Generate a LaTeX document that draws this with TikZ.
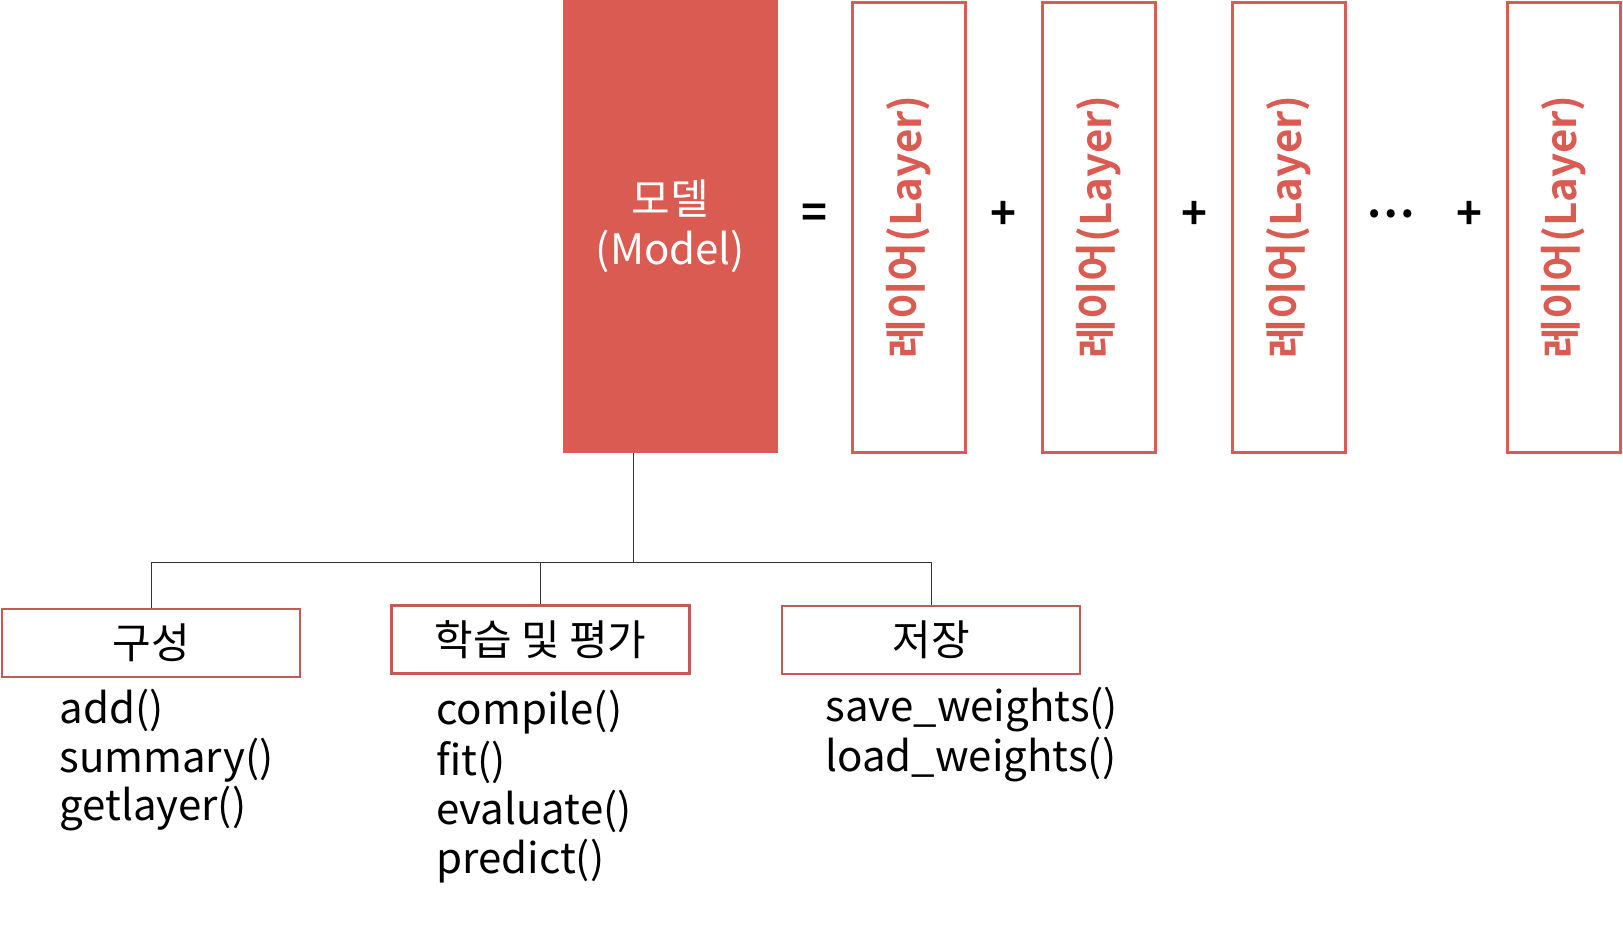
\documentclass[tikz,border=0pt]{standalone}
\usepackage{fontspec}
\setmainfont{Noto Sans CJK KR}[BoldFont={Noto Sans CJK KR Bold}]
\definecolor{mred}{HTML}{D95B51}
\definecolor{bred}{HTML}{C55A55}
\definecolor{conn}{HTML}{333333}
\tikzset{
  modelbox/.style={fill=mred, draw=none, minimum width=107.5pt, minimum height=226.5pt, inner sep=0pt, text=white, align=center, font=\fontsize{21}{25}\selectfont},
  layerbox/.style={draw=mred, line width=1.5pt, fill=white, minimum width=56.5pt, minimum height=225pt, inner sep=0pt},
  layertext/.style={rotate=90, text=mred, font=\fontsize{21}{24}\selectfont\bfseries},
  sym/.style={font=\fontsize{22}{26}\selectfont\bfseries, inner sep=0pt},
  catbox/.style={draw=bred, line width=1.25pt, minimum width=149pt, minimum height=34pt, inner sep=0pt, font=\fontsize{21}{24}\selectfont},
  item/.style={anchor=west, inner sep=0pt, font=\fontsize{21}{24}\selectfont},
  connline/.style={draw=conn, line width=0.5pt}
}
\begin{document}
\begin{tikzpicture}[x=0.5pt,y=-0.5pt]
\useasboundingbox (0,0) rectangle (1623,927);
\node[modelbox] (model) at (670.5,226.5) {모델\\(Model)};
\node[sym] (eq) at (814,216) {=};
\node[layerbox] (l1) at (909,227) {};
\node[layertext] (t1) at (l1.center) {레이어(Layer)};
\node[sym] (p1) at (1003,215) {+};
\node[layerbox] (l2) at (1098.5,227) {};
\node[layertext] (t2) at (l2.center) {레이어(Layer)};
\node[sym] (p2) at (1194,215) {+};
\node[layerbox] (l3) at (1288.5,227) {};
\node[layertext] (t3) at (l3.center) {레이어(Layer)};
\node[sym] (dots) at (1391,214) {…};
\node[sym] (p3) at (1469,215) {+};
\node[layerbox] (l4) at (1564,227) {};
\node[layertext] (t4) at (l4.center) {레이어(Layer)};

\node[catbox] (b1) at (151,643) {구성};
\node[catbox] (b2) at (540.5,639.5) {학습 및 평가};
\node[catbox] (b3) at (931,640) {저장};

\coordinate (mj) at (633,562);
\draw[connline] (model.south -| mj) -- (mj);
\draw[connline] (b1.north) -- (b1.north |- mj) -- (b3.north |- mj) -- (b3.north);
\draw[connline] (b2.north) -- (b2.north |- mj);

\node[item] (i11) at (59,710) {add()};
\node[item] (i12) at (59,760) {summary()};
\node[item] (i13) at (59,809) {getlayer()};
\node[item] (i21) at (436,712) {compile()};
\node[item] (i22) at (436,762) {fit()};
\node[item] (i23) at (436,811) {evaluate()};
\node[item] (i24) at (436,861) {predict()};
\node[item] (i31) at (825,710) {save\_weights()};
\node[item] (i32) at (825,760) {load\_weights()};
\end{tikzpicture}
\end{document}
